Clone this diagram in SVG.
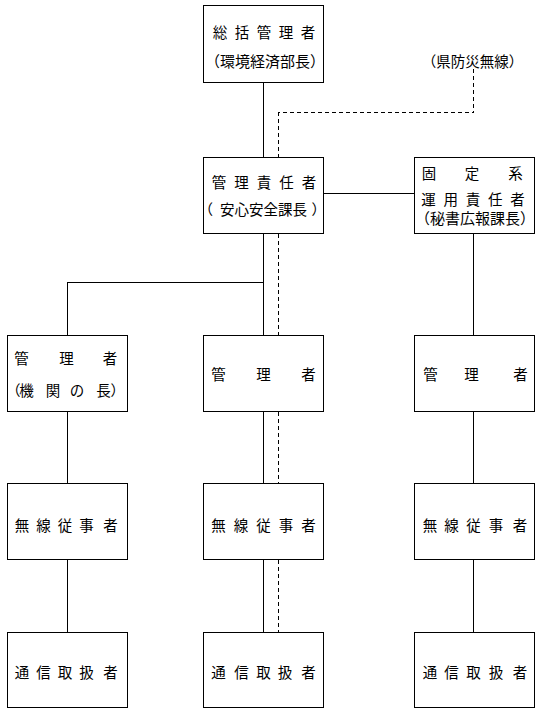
<svg xmlns="http://www.w3.org/2000/svg" width="540" height="714" viewBox="0 0 540 714">
<style>
.box{fill:#fff;stroke:#000;stroke-width:1}
.ln{fill:none;stroke:#000;stroke-width:1}
.dash{fill:none;stroke:#000;stroke-width:1;stroke-dasharray:4 3}
text{font-family:"Noto Sans CJK JP","Noto Sans CJK SC",sans-serif;font-size:14.5px;fill:#000;dominant-baseline:central}
.m{text-anchor:middle}
</style>
<rect width="540" height="714" fill="#fff"/>
<g id="connectors" shape-rendering="crispEdges">
<path class="ln" d="M263.5 82.5V157.5"/>
<path class="dash" d="M278.5 157.5V112.5H473.5V68"/>
<path class="ln" d="M323.5 193.5H414.5"/>
<path class="ln" d="M263.5 233.5V335.5"/>
<path class="ln" d="M67.5 335.5V282.5H263.5"/>
<path class="dash" d="M278.5 233.5V335.5"/>
<path class="ln" d="M473.5 233.5V335.5"/>
<path class="ln" d="M67.5 411.5V483.5M67.5 559.5V632.5"/>
<path class="ln" d="M263.5 411.5V483.5M263.5 559.5V632.5"/>
<path class="dash" d="M278.5 411.5V483.5M278.5 559.5V632.5"/>
<path class="ln" d="M473.5 411.5V483.5M473.5 559.5V632.5"/>
</g>
<g id="n-sokatsu">
<rect class="box" x="203.5" y="5.5" width="120" height="77" shape-rendering="crispEdges"/>
<text class="m" x="220 242 264 286 308" y="31">総括管理者</text>
<text class="m" x="265" y="60" style="font-size:15px">（環境経済部長）</text>
</g>
<g id="n-kenbousai">
<text class="m" x="472.5" y="60" style="font-size:14.5px">（県防災無線）</text>
</g>
<g id="n-kanrisekinin">
<rect class="box" x="203.5" y="157.5" width="120" height="76" shape-rendering="crispEdges"/>
<text class="m" x="219 241.5 264 286.5 309" y="181">管理責任者</text>
<text x="198.5" y="208.5">（</text>
<text x="220" y="208.5">安心安全課長</text>
<text x="311.5" y="208.5">）</text>
</g>
<g id="n-kotei">
<rect class="box" x="414.5" y="157.5" width="120" height="76" shape-rendering="crispEdges"/>
<text class="m" x="429 472 515.5" y="172.5">固定系</text>
<text class="m" x="428.5 450.75 473 495.25 517.5" y="198.5">運用責任者</text>
<text class="m" x="475" y="217.5" style="font-size:15px">（秘書広報課長）</text>
</g>
<g id="n-kanri-left">
<rect class="box" x="7.5" y="335.5" width="120" height="76" shape-rendering="crispEdges"/>
<text class="m" x="21.5 66.5 110" y="357.5">管理者</text>
<text x="6" y="389">（</text>
<text class="m" x="26.5 53 77 103.5" y="389">機関の長</text>
<text x="110.5" y="389">）</text>
</g>
<g id="n-kanri-mid">
<rect class="box" x="203.5" y="335.5" width="120" height="76" shape-rendering="crispEdges"/>
<text class="m" x="218.5 263.5 308.5" y="373.5">管理者</text>
</g>
<g id="n-kanri-right">
<rect class="box" x="414.5" y="335.5" width="120" height="76" shape-rendering="crispEdges"/>
<text class="m" x="430.5 471.5 520.5" y="373.5">管理者</text>
</g>
<g id="n-musen-left">
<rect class="box" x="7.5" y="483.5" width="120" height="76" shape-rendering="crispEdges"/>
<text class="m" x="22 43.5 65 86.5 110.5" y="524">無線従事者</text>
</g>
<g id="n-musen-mid">
<rect class="box" x="203.5" y="483.5" width="120" height="76" shape-rendering="crispEdges"/>
<text class="m" x="218.5 241 263.5 286 308.5" y="524">無線従事者</text>
</g>
<g id="n-musen-right">
<rect class="box" x="414.5" y="483.5" width="120" height="76" shape-rendering="crispEdges"/>
<text class="m" x="430 451.5 473.5 496 520" y="524">無線従事者</text>
</g>
<g id="n-tsushin-left">
<rect class="box" x="7.5" y="632.5" width="120" height="75" shape-rendering="crispEdges"/>
<text class="m" x="22 43.5 65 86.5 110.5" y="671.5">通信取扱者</text>
</g>
<g id="n-tsushin-mid">
<rect class="box" x="203.5" y="632.5" width="120" height="75" shape-rendering="crispEdges"/>
<text class="m" x="218.5 241.5 263.5 285 308.5" y="671.5">通信取扱者</text>
</g>
<g id="n-tsushin-right">
<rect class="box" x="414.5" y="632.5" width="120" height="75" shape-rendering="crispEdges"/>
<text class="m" x="430 451.5 473.5 496 520" y="671.5">通信取扱者</text>
</g>
</svg>
